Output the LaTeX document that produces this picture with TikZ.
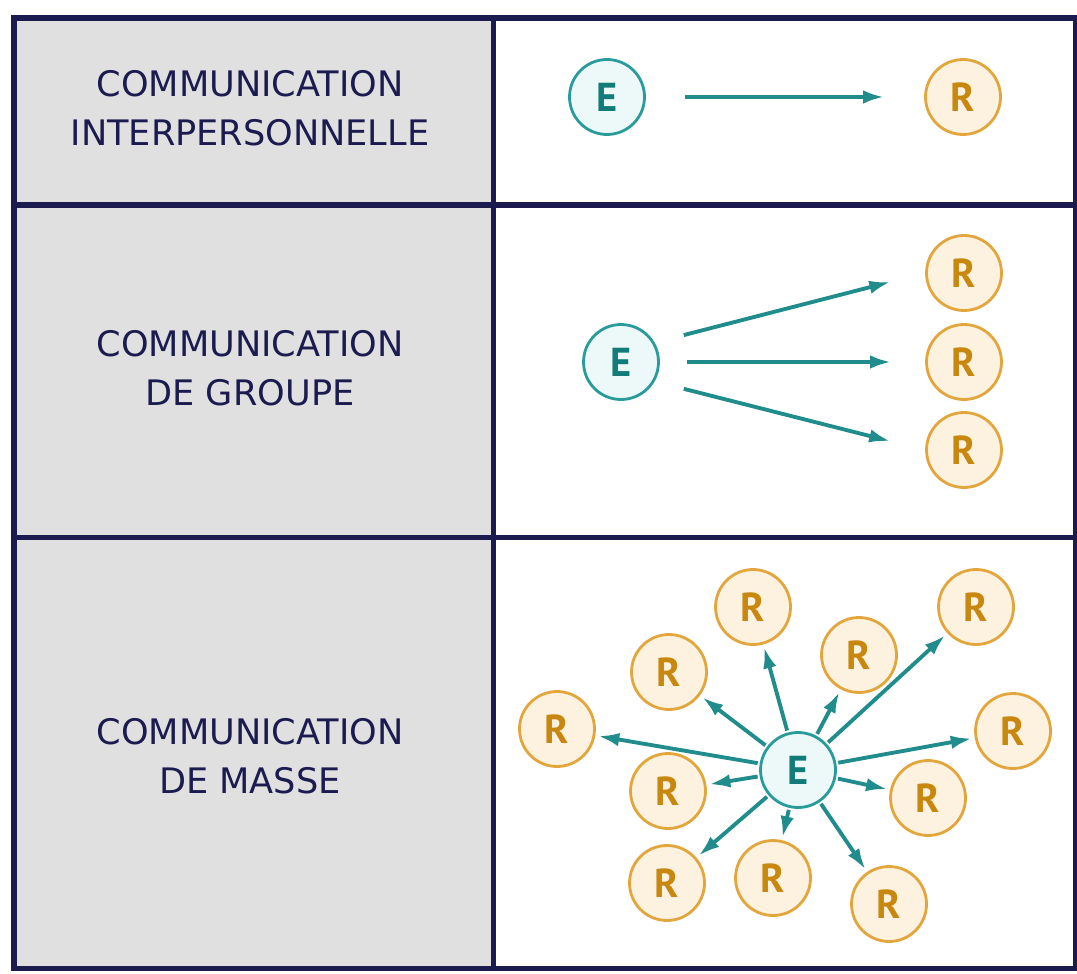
\documentclass[tikz,border=0pt]{standalone}
\usepackage{fontspec}
\setmainfont{DejaVu Sans}
\newfontfamily\lettrefont{PT Sans}
\usetikzlibrary{arrows.meta}

\definecolor{cadre}{HTML}{1B1B50}
\definecolor{grisCase}{HTML}{E0E0E0}
\definecolor{emLigne}{HTML}{2A9B9B}
\definecolor{emFond}{HTML}{EDF9F9}
\definecolor{emTexte}{HTML}{137B78}
\definecolor{reLigne}{HTML}{E2A63C}
\definecolor{reFond}{HTML}{FDF1DF}
\definecolor{reTexte}{HTML}{C8870E}
\definecolor{fleche}{HTML}{208C8C}

\tikzset{
	emetteur/.style={circle, draw=emLigne, fill=emFond, line width=1.6pt, minimum size=1.5cm, inner sep=0pt, text=emTexte, font=\lettrefont\bfseries\fontsize{23}{23}\selectfont},
	recepteur/.style={circle, draw=reLigne, fill=reFond, line width=1.6pt, minimum size=1.5cm, inner sep=0pt, text=reTexte, font=\lettrefont\bfseries\fontsize{23}{23}\selectfont},
	flux/.style={draw=fleche, line width=2.2pt, -{Latex[length=0.42cm, width=0.27cm]}},
	titre/.style={align=center, text=cadre, font=\fontsize{20}{28}\selectfont},
	trait/.style={draw=cadre, line width=2.85pt},
}

\begin{document}
\begin{tikzpicture}[x=0.02cm, y=-0.02cm]
			%%%%% START %%%%%
			\useasboundingbox (0, 0) rectangle (1077, 973);
			
			\fill[grisCase] (14, 18) rectangle (493, 968);
			
			\node[titre] (t1) at (250, 108) {COMMUNICATION\\INTERPERSONNELLE};
			\node[titre] (t2) at (250, 368) {COMMUNICATION\\DE GROUPE};
			\node[titre] (t3) at (250, 756) {COMMUNICATION\\DE MASSE};
			
			% interpersonnelle
			\node[emetteur] (e1) at (607, 97) {E};
			\node[recepteur] (r1) at (963, 97) {R};
			\draw[flux, shorten <=0.78cm, shorten >=0.8cm] (e1) -- (r1);
			
			% groupe
			\node[emetteur] (e2) at (621, 362) {E};
			\node[recepteur] (r2a) at (964, 273) {R};
			\node[recepteur] (r2b) at (964, 362) {R};
			\node[recepteur] (r2c) at (964, 450) {R};
			\draw[flux, shorten <=0.6cm, shorten >=0.72cm] (e2.30) -- (r2a.west);
			\draw[flux, shorten <=0.55cm, shorten >=0.68cm] (e2) -- (r2b);
			\draw[flux, shorten <=0.6cm, shorten >=0.72cm] (e2.-30) -- (r2c.west);
			
			% masse
			\node[emetteur] (e3) at (798, 770) {E};
			\node[recepteur] (r3a) at (753, 607) {R};
			\node[recepteur] (r3b) at (669, 672) {R};
			\node[recepteur] (r3c) at (557, 729) {R};
			\node[recepteur] (r3d) at (668, 791) {R};
			\node[recepteur] (r3e) at (667, 883) {R};
			\node[recepteur] (r3f) at (773, 878) {R};
			\node[recepteur] (r3g) at (889, 904) {R};
			\node[recepteur] (r3h) at (928, 798) {R};
			\node[recepteur] (r3i) at (1013, 731) {R};
			\node[recepteur] (r3j) at (976, 607) {R};
			\node[recepteur] (r3k) at (859, 655) {R};
			\foreach \r in {r3a,r3b,r3c,r3d,r3e,r3f,r3g,r3h,r3i,r3j,r3k}
				\draw[flux, shorten <=0.04cm, shorten >=0.06cm] (e3) -- (\r);
			
			% cadre
			\draw[trait] (14, 18) rectangle (1075, 968);
			\draw[trait] (493, 18) -- (493, 968);
			\draw[trait] (14, 205) -- (1075, 205);
			\draw[trait] (14, 537) -- (1075, 537);
			%%%%% END %%%%%
		\end{tikzpicture}
\end{document}
